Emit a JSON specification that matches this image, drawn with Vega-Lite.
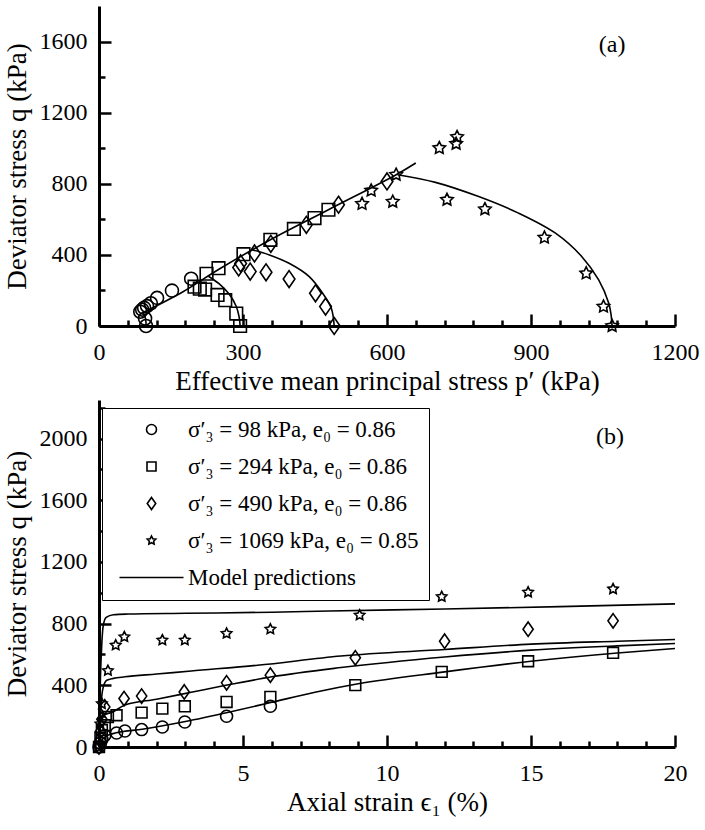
{
  "$schema": "https://vega.github.io/schema/vega-lite/v6.json",
  "background": "white",
  "padding": {"left": 3, "top": 6, "right": 8, "bottom": 5},
  "config": {
    "font": "Liberation Serif",
    "view": {"stroke": null},
    "axis": {
      "domainColor": "black", "domainWidth": 3, "tickColor": "black", "tickWidth": 2.5,
      "labelColor": "black", "titleColor": "black", "grid": false,
      "labelFlush": false, "labelOverlap": false,
      "labelFont": "Liberation Serif", "titleFont": "Liberation Serif", "titleFontWeight": "normal"
    }
  },
  "datasets": {
    "pointsA": [
      {"p": 98, "q": 0, "s": "σ′₃ = 98 kPa, e₀ = 0.86"},
      {"p": 96, "q": 42, "s": "σ′₃ = 98 kPa, e₀ = 0.86"},
      {"p": 86, "q": 80, "s": "σ′₃ = 98 kPa, e₀ = 0.86"},
      {"p": 90, "q": 92, "s": "σ′₃ = 98 kPa, e₀ = 0.86"},
      {"p": 94, "q": 102, "s": "σ′₃ = 98 kPa, e₀ = 0.86"},
      {"p": 100, "q": 112, "s": "σ′₃ = 98 kPa, e₀ = 0.86"},
      {"p": 108, "q": 128, "s": "σ′₃ = 98 kPa, e₀ = 0.86"},
      {"p": 121, "q": 158, "s": "σ′₃ = 98 kPa, e₀ = 0.86"},
      {"p": 152, "q": 199, "s": "σ′₃ = 98 kPa, e₀ = 0.86"},
      {"p": 192, "q": 266, "s": "σ′₃ = 98 kPa, e₀ = 0.86"},
      {"p": 294, "q": 0, "s": "σ′₃ = 294 kPa, e₀ = 0.86"},
      {"p": 286, "q": 70, "s": "σ′₃ = 294 kPa, e₀ = 0.86"},
      {"p": 263, "q": 145, "s": "σ′₃ = 294 kPa, e₀ = 0.86"},
      {"p": 247, "q": 175, "s": "σ′₃ = 294 kPa, e₀ = 0.86"},
      {"p": 221, "q": 205, "s": "σ′₃ = 294 kPa, e₀ = 0.86"},
      {"p": 210, "q": 210, "s": "σ′₃ = 294 kPa, e₀ = 0.86"},
      {"p": 199, "q": 221, "s": "σ′₃ = 294 kPa, e₀ = 0.86"},
      {"p": 224, "q": 294, "s": "σ′₃ = 294 kPa, e₀ = 0.86"},
      {"p": 249, "q": 325, "s": "σ′₃ = 294 kPa, e₀ = 0.86"},
      {"p": 301, "q": 404, "s": "σ′₃ = 294 kPa, e₀ = 0.86"},
      {"p": 357, "q": 485, "s": "σ′₃ = 294 kPa, e₀ = 0.86"},
      {"p": 406, "q": 546, "s": "σ′₃ = 294 kPa, e₀ = 0.86"},
      {"p": 449, "q": 607, "s": "σ′₃ = 294 kPa, e₀ = 0.86"},
      {"p": 478, "q": 654, "s": "σ′₃ = 294 kPa, e₀ = 0.86"},
      {"p": 490, "q": 0, "s": "σ′₃ = 490 kPa, e₀ = 0.86"},
      {"p": 472, "q": 109, "s": "σ′₃ = 490 kPa, e₀ = 0.86"},
      {"p": 451, "q": 184, "s": "σ′₃ = 490 kPa, e₀ = 0.86"},
      {"p": 396, "q": 264, "s": "σ′₃ = 490 kPa, e₀ = 0.86"},
      {"p": 348, "q": 302, "s": "σ′₃ = 490 kPa, e₀ = 0.86"},
      {"p": 315, "q": 306, "s": "σ′₃ = 490 kPa, e₀ = 0.86"},
      {"p": 291, "q": 329, "s": "σ′₃ = 490 kPa, e₀ = 0.86"},
      {"p": 295, "q": 352, "s": "σ′₃ = 490 kPa, e₀ = 0.86"},
      {"p": 324, "q": 408, "s": "σ′₃ = 490 kPa, e₀ = 0.86"},
      {"p": 358, "q": 462, "s": "σ′₃ = 490 kPa, e₀ = 0.86"},
      {"p": 432, "q": 569, "s": "σ′₃ = 490 kPa, e₀ = 0.86"},
      {"p": 499, "q": 682, "s": "σ′₃ = 490 kPa, e₀ = 0.86"},
      {"p": 600, "q": 813, "s": "σ′₃ = 490 kPa, e₀ = 0.86"},
      {"p": 1069, "q": 0, "s": "σ′₃ = 1069 kPa, e₀ = 0.85"},
      {"p": 1051, "q": 109, "s": "σ′₃ = 1069 kPa, e₀ = 0.85"},
      {"p": 1015, "q": 296, "s": "σ′₃ = 1069 kPa, e₀ = 0.85"},
      {"p": 928, "q": 497, "s": "σ′₃ = 1069 kPa, e₀ = 0.85"},
      {"p": 804, "q": 657, "s": "σ′₃ = 1069 kPa, e₀ = 0.85"},
      {"p": 725, "q": 710, "s": "σ′₃ = 1069 kPa, e₀ = 0.85"},
      {"p": 612, "q": 699, "s": "σ′₃ = 1069 kPa, e₀ = 0.85"},
      {"p": 548, "q": 687, "s": "σ′₃ = 1069 kPa, e₀ = 0.85"},
      {"p": 567, "q": 762, "s": "σ′₃ = 1069 kPa, e₀ = 0.85"},
      {"p": 619, "q": 851, "s": "σ′₃ = 1069 kPa, e₀ = 0.85"},
      {"p": 709, "q": 1001, "s": "σ′₃ = 1069 kPa, e₀ = 0.85"},
      {"p": 744, "q": 1025, "s": "σ′₃ = 1069 kPa, e₀ = 0.85"},
      {"p": 746, "q": 1063, "s": "σ′₃ = 1069 kPa, e₀ = 0.85"}
    ],
    "linesA": [
      {"p": 92, "q": 76, "g": "csl", "i": 0},
      {"p": 175, "q": 193, "g": "csl", "i": 1},
      {"p": 249, "q": 318, "g": "csl", "i": 2},
      {"p": 357, "q": 485, "g": "csl", "i": 3},
      {"p": 478, "q": 654, "g": "csl", "i": 4},
      {"p": 619, "q": 851, "g": "csl", "i": 5},
      {"p": 660, "q": 917, "g": "csl", "i": 6},
      {"p": 98, "q": 0, "g": "m98", "i": 0},
      {"p": 97, "q": 40, "g": "m98", "i": 1},
      {"p": 92, "q": 76, "g": "m98", "i": 2},
      {"p": 294, "q": 0, "g": "m294", "i": 0},
      {"p": 292, "q": 50, "g": "m294", "i": 1},
      {"p": 286, "q": 110, "g": "m294", "i": 2},
      {"p": 271, "q": 180, "g": "m294", "i": 3},
      {"p": 250, "q": 238, "g": "m294", "i": 4},
      {"p": 228, "q": 280, "g": "m294", "i": 5},
      {"p": 490, "q": 0, "g": "m490", "i": 0},
      {"p": 484, "q": 100, "g": "m490", "i": 1},
      {"p": 467, "q": 180, "g": "m490", "i": 2},
      {"p": 438, "q": 278, "g": "m490", "i": 3},
      {"p": 396, "q": 353, "g": "m490", "i": 4},
      {"p": 355, "q": 400, "g": "m490", "i": 5},
      {"p": 320, "q": 428, "g": "m490", "i": 6},
      {"p": 1069, "q": 0, "g": "m1069", "i": 0},
      {"p": 1067, "q": 60, "g": "m1069", "i": 1},
      {"p": 1062, "q": 128, "g": "m1069", "i": 2},
      {"p": 1041, "q": 259, "g": "m1069", "i": 3},
      {"p": 1006, "q": 390, "g": "m1069", "i": 4},
      {"p": 951, "q": 522, "g": "m1069", "i": 5},
      {"p": 874, "q": 635, "g": "m1069", "i": 6},
      {"p": 791, "q": 728, "g": "m1069", "i": 7},
      {"p": 701, "q": 808, "g": "m1069", "i": 8},
      {"p": 622, "q": 851, "g": "m1069", "i": 9}
    ],
    "pointsB": [
      {"e": 0, "q": 0, "s": "σ′₃ = 98 kPa, e₀ = 0.86"},
      {"e": 0.05, "q": 25, "s": "σ′₃ = 98 kPa, e₀ = 0.86"},
      {"e": 0.1, "q": 50, "s": "σ′₃ = 98 kPa, e₀ = 0.86"},
      {"e": 0.2, "q": 75, "s": "σ′₃ = 98 kPa, e₀ = 0.86"},
      {"e": 0.61, "q": 91, "s": "σ′₃ = 98 kPa, e₀ = 0.86"},
      {"e": 0.9, "q": 104, "s": "σ′₃ = 98 kPa, e₀ = 0.86"},
      {"e": 1.48, "q": 113, "s": "σ′₃ = 98 kPa, e₀ = 0.86"},
      {"e": 2.2, "q": 130, "s": "σ′₃ = 98 kPa, e₀ = 0.86"},
      {"e": 2.98, "q": 162, "s": "σ′₃ = 98 kPa, e₀ = 0.86"},
      {"e": 4.43, "q": 199, "s": "σ′₃ = 98 kPa, e₀ = 0.86"},
      {"e": 5.95, "q": 264, "s": "σ′₃ = 98 kPa, e₀ = 0.86"},
      {"e": 0, "q": 0, "s": "σ′₃ = 294 kPa, e₀ = 0.86"},
      {"e": 0.05, "q": 60, "s": "σ′₃ = 294 kPa, e₀ = 0.86"},
      {"e": 0.1, "q": 110, "s": "σ′₃ = 294 kPa, e₀ = 0.86"},
      {"e": 0.2, "q": 141, "s": "σ′₃ = 294 kPa, e₀ = 0.86"},
      {"e": 0.31, "q": 195, "s": "σ′₃ = 294 kPa, e₀ = 0.86"},
      {"e": 0.61, "q": 206, "s": "σ′₃ = 294 kPa, e₀ = 0.86"},
      {"e": 1.48, "q": 223, "s": "σ′₃ = 294 kPa, e₀ = 0.86"},
      {"e": 2.2, "q": 249, "s": "σ′₃ = 294 kPa, e₀ = 0.86"},
      {"e": 2.98, "q": 264, "s": "σ′₃ = 294 kPa, e₀ = 0.86"},
      {"e": 4.43, "q": 292, "s": "σ′₃ = 294 kPa, e₀ = 0.86"},
      {"e": 5.95, "q": 325, "s": "σ′₃ = 294 kPa, e₀ = 0.86"},
      {"e": 8.9, "q": 401, "s": "σ′₃ = 294 kPa, e₀ = 0.86"},
      {"e": 11.9, "q": 487, "s": "σ′₃ = 294 kPa, e₀ = 0.86"},
      {"e": 14.9, "q": 556, "s": "σ′₃ = 294 kPa, e₀ = 0.86"},
      {"e": 17.85, "q": 610, "s": "σ′₃ = 294 kPa, e₀ = 0.86"},
      {"e": 0, "q": 0, "s": "σ′₃ = 490 kPa, e₀ = 0.86"},
      {"e": 0.05, "q": 100, "s": "σ′₃ = 490 kPa, e₀ = 0.86"},
      {"e": 0.1, "q": 180, "s": "σ′₃ = 490 kPa, e₀ = 0.86"},
      {"e": 0.2, "q": 260, "s": "σ′₃ = 490 kPa, e₀ = 0.86"},
      {"e": 0.87, "q": 314, "s": "σ′₃ = 490 kPa, e₀ = 0.86"},
      {"e": 1.48, "q": 330, "s": "σ′₃ = 490 kPa, e₀ = 0.86"},
      {"e": 2.96, "q": 357, "s": "σ′₃ = 490 kPa, e₀ = 0.86"},
      {"e": 4.43, "q": 416, "s": "σ′₃ = 490 kPa, e₀ = 0.86"},
      {"e": 5.95, "q": 466, "s": "σ′₃ = 490 kPa, e₀ = 0.86"},
      {"e": 8.9, "q": 578, "s": "σ′₃ = 490 kPa, e₀ = 0.86"},
      {"e": 12, "q": 686, "s": "σ′₃ = 490 kPa, e₀ = 0.86"},
      {"e": 14.9, "q": 764, "s": "σ′₃ = 490 kPa, e₀ = 0.86"},
      {"e": 17.85, "q": 818, "s": "σ′₃ = 490 kPa, e₀ = 0.86"},
      {"e": 0, "q": 0, "s": "σ′₃ = 1069 kPa, e₀ = 0.85"},
      {"e": 0.05, "q": 150, "s": "σ′₃ = 1069 kPa, e₀ = 0.85"},
      {"e": 0.1, "q": 280, "s": "σ′₃ = 1069 kPa, e₀ = 0.85"},
      {"e": 0.31, "q": 495, "s": "σ′₃ = 1069 kPa, e₀ = 0.85"},
      {"e": 0.58, "q": 660, "s": "σ′₃ = 1069 kPa, e₀ = 0.85"},
      {"e": 0.88, "q": 714, "s": "σ′₃ = 1069 kPa, e₀ = 0.85"},
      {"e": 2.2, "q": 693, "s": "σ′₃ = 1069 kPa, e₀ = 0.85"},
      {"e": 2.98, "q": 693, "s": "σ′₃ = 1069 kPa, e₀ = 0.85"},
      {"e": 4.43, "q": 736, "s": "σ′₃ = 1069 kPa, e₀ = 0.85"},
      {"e": 5.95, "q": 764, "s": "σ′₃ = 1069 kPa, e₀ = 0.85"},
      {"e": 9.05, "q": 855, "s": "σ′₃ = 1069 kPa, e₀ = 0.85"},
      {"e": 11.9, "q": 974, "s": "σ′₃ = 1069 kPa, e₀ = 0.85"},
      {"e": 14.9, "q": 1003, "s": "σ′₃ = 1069 kPa, e₀ = 0.85"},
      {"e": 17.85, "q": 1024, "s": "σ′₃ = 1069 kPa, e₀ = 0.85"}
    ],
    "linesB": [
      {"e": 0, "q": 0, "g": "m1069", "i": 0},
      {"e": 0.02, "q": 200, "g": "m1069", "i": 1},
      {"e": 0.05, "q": 450, "g": "m1069", "i": 2},
      {"e": 0.1, "q": 680, "g": "m1069", "i": 3},
      {"e": 0.15, "q": 790, "g": "m1069", "i": 4},
      {"e": 0.25, "q": 840, "g": "m1069", "i": 5},
      {"e": 0.5, "q": 858, "g": "m1069", "i": 6},
      {"e": 1, "q": 862, "g": "m1069", "i": 7},
      {"e": 3, "q": 867, "g": "m1069", "i": 8},
      {"e": 6, "q": 874, "g": "m1069", "i": 9},
      {"e": 8, "q": 882, "g": "m1069", "i": 10},
      {"e": 12, "q": 895, "g": "m1069", "i": 11},
      {"e": 16, "q": 910, "g": "m1069", "i": 12},
      {"e": 20, "q": 928, "g": "m1069", "i": 13},
      {"e": 0, "q": 0, "g": "m490", "i": 0},
      {"e": 0.03, "q": 150, "g": "m490", "i": 1},
      {"e": 0.08, "q": 300, "g": "m490", "i": 2},
      {"e": 0.15, "q": 390, "g": "m490", "i": 3},
      {"e": 0.27, "q": 433, "g": "m490", "i": 4},
      {"e": 0.5, "q": 445, "g": "m490", "i": 5},
      {"e": 0.9, "q": 455, "g": "m490", "i": 6},
      {"e": 2, "q": 473, "g": "m490", "i": 7},
      {"e": 3.2, "q": 493, "g": "m490", "i": 8},
      {"e": 5.5, "q": 530, "g": "m490", "i": 9},
      {"e": 8.4, "q": 590, "g": "m490", "i": 10},
      {"e": 12, "q": 632, "g": "m490", "i": 11},
      {"e": 15, "q": 667, "g": "m490", "i": 12},
      {"e": 18, "q": 686, "g": "m490", "i": 13},
      {"e": 20, "q": 697, "g": "m490", "i": 14},
      {"e": 0, "q": 0, "g": "m294", "i": 0},
      {"e": 0.02, "q": 80, "g": "m294", "i": 1},
      {"e": 0.05, "q": 150, "g": "m294", "i": 2},
      {"e": 0.1, "q": 190, "g": "m294", "i": 3},
      {"e": 0.2, "q": 210, "g": "m294", "i": 4},
      {"e": 0.45, "q": 225, "g": "m294", "i": 5},
      {"e": 0.9, "q": 272, "g": "m294", "i": 6},
      {"e": 2, "q": 310, "g": "m294", "i": 7},
      {"e": 3.2, "q": 355, "g": "m294", "i": 8},
      {"e": 4.4, "q": 400, "g": "m294", "i": 9},
      {"e": 6, "q": 455, "g": "m294", "i": 10},
      {"e": 8.4, "q": 515, "g": "m294", "i": 11},
      {"e": 12, "q": 584, "g": "m294", "i": 12},
      {"e": 15, "q": 628, "g": "m294", "i": 13},
      {"e": 18, "q": 656, "g": "m294", "i": 14},
      {"e": 20, "q": 671, "g": "m294", "i": 15},
      {"e": 0, "q": 0, "g": "m98", "i": 0},
      {"e": 0.1, "q": 45, "g": "m98", "i": 1},
      {"e": 0.3, "q": 75, "g": "m98", "i": 2},
      {"e": 0.6, "q": 92, "g": "m98", "i": 3},
      {"e": 1.5, "q": 115, "g": "m98", "i": 4},
      {"e": 3, "q": 165, "g": "m98", "i": 5},
      {"e": 4.5, "q": 225, "g": "m98", "i": 6},
      {"e": 6, "q": 290, "g": "m98", "i": 7},
      {"e": 7.5, "q": 355, "g": "m98", "i": 8},
      {"e": 9, "q": 410, "g": "m98", "i": 9},
      {"e": 12, "q": 487, "g": "m98", "i": 10},
      {"e": 15, "q": 556, "g": "m98", "i": 11},
      {"e": 18, "q": 610, "g": "m98", "i": 12},
      {"e": 20, "q": 639, "g": "m98", "i": 13}
    ],
    "labelA": [{"p": 1069, "q": 1583, "t": "(a)"}],
    "labelB": [{"e": 17.74, "q": 2011, "t": "(b)"}]
  },
  "bounds": "flush",
  "spacing": 74,
  "resolve": {"scale": {"shape": "independent"}, "legend": {"shape": "independent"}},
  "vconcat": [
    {
      "width": 576,
      "height": 320,
      "resolve": {"axis": {"x": "independent", "y": "independent"}},
      "layer": [
        {
          "data": {"name": "linesA"},
          "mark": {"type": "line", "color": "black", "strokeWidth": 1.6, "interpolate": "catmull-rom"},
          "encoding": {
            "x": {"field": "p", "type": "quantitative", "scale": {"domain": [0, 1200], "nice": false},
              "axis": {"orient": "bottom", "values": [60, 120, 180, 240, 360, 420, 480, 540, 660, 720, 780, 840, 960, 1020, 1080, 1140], "tickSize": -6, "labels": false, "domain": false, "title": null}},
            "y": {"field": "q", "type": "quantitative", "scale": {"domain": [0, 1800], "nice": false},
              "axis": {"orient": "left", "values": [200, 600, 1000, 1400], "tickSize": -6, "labels": false, "domain": false, "title": null}},
            "detail": {"field": "g", "type": "nominal"},
            "order": {"field": "i", "type": "quantitative"}
          }
        },
        {
          "data": {"name": "pointsA"},
          "mark": {"type": "point", "filled": false, "stroke": "black", "strokeWidth": 1.6, "size": 169, "opacity": 1},
          "encoding": {
            "x": {"field": "p", "type": "quantitative", "scale": {"domain": [0, 1200], "nice": false},
              "axis": {"orient": "bottom", "values": [0, 300, 600, 900, 1200], "format": "d", "tickSize": -12, "labelPadding": 26, "title": "Effective mean principal stress p′ (kPa)", "titlePadding": 4,
                "labelFont": "Liberation Serif", "labelFontSize": 24, "titleFont": "Liberation Serif", "titleFontSize": 27, "titleFontWeight": "normal"}},
            "y": {"field": "q", "type": "quantitative", "scale": {"domain": [0, 1800], "nice": false},
              "axis": {"orient": "left", "values": [0, 400, 800, 1200, 1600], "format": "d", "tickSize": -12, "labelPadding": 24, "title": "Deviator stress q (kPa)", "titlePadding": 8,
                "labelFont": "Liberation Serif", "labelFontSize": 24, "titleFont": "Liberation Serif", "titleFontSize": 27, "titleFontWeight": "normal"}},
            "shape": {"field": "s", "type": "nominal", "legend": null,
              "scale": {"domain": ["σ′₃ = 98 kPa, e₀ = 0.86", "σ′₃ = 294 kPa, e₀ = 0.86", "σ′₃ = 490 kPa, e₀ = 0.86", "σ′₃ = 1069 kPa, e₀ = 0.85"],
                "range": ["circle", "M-0.97,-0.97H0.97V0.97H-0.97Z", "M0,-1.3L0.9,0L0,1.3L-0.9,0Z", "M0,-1L0.294,-0.405L0.951,-0.309L0.476,0.155L0.588,0.809L0,0.5L-0.588,0.809L-0.476,0.155L-0.951,-0.309L-0.294,-0.405Z"]}}
          }
        },
        {
          "data": {"name": "labelA"},
          "mark": {"type": "text", "font": "Liberation Serif", "fontSize": 24, "color": "black", "align": "center", "baseline": "middle"},
          "encoding": {
            "x": {"field": "p", "type": "quantitative", "axis": null},
            "y": {"field": "q", "type": "quantitative", "axis": null},
            "text": {"field": "t"}
          }
        }
      ]
    },
    {
      "width": 576,
      "height": 347,
      "resolve": {"axis": {"x": "independent", "y": "independent"}},
      "layer": [
        {
          "data": {"name": "linesB"},
          "mark": {"type": "line", "color": "black", "strokeWidth": 1.6, "interpolate": "monotone"},
          "encoding": {
            "x": {"field": "e", "type": "quantitative", "scale": {"domain": [0, 20], "nice": false},
              "axis": {"orient": "bottom", "values": [1, 2, 3, 4, 6, 7, 8, 9, 11, 12, 13, 14, 16, 17, 18, 19], "tickSize": -6, "labels": false, "domain": false, "title": null}},
            "y": {"field": "q", "type": "quantitative", "scale": {"domain": [0, 2250], "nice": false},
              "axis": {"orient": "left", "values": [200, 600, 1000, 1400, 1800, 2200], "tickSize": -6, "labels": false, "domain": false, "title": null}},
            "detail": {"field": "g", "type": "nominal"},
            "order": {"field": "i", "type": "quantitative"}
          }
        },
        {
          "data": {"name": "pointsB"},
          "mark": {"type": "point", "filled": false, "stroke": "black", "strokeWidth": 1.6, "size": 144, "opacity": 1},
          "encoding": {
            "x": {"field": "e", "type": "quantitative", "scale": {"domain": [0, 20], "nice": false},
              "axis": {"orient": "bottom", "values": [0, 5, 10, 15, 20], "format": "d", "tickSize": -12, "labelPadding": 26, "title": "Axial strain ϵ₁ (%)", "titlePadding": 4,
                "labelFont": "Liberation Serif", "labelFontSize": 24, "titleFont": "Liberation Serif", "titleFontSize": 27, "titleFontWeight": "normal"}},
            "y": {"field": "q", "type": "quantitative", "scale": {"domain": [0, 2250], "nice": false},
              "axis": {"orient": "left", "values": [0, 400, 800, 1200, 1600, 2000], "format": "d", "tickSize": -12, "labelPadding": 24, "title": "Deviator stress q (kPa)", "titlePadding": 8,
                "labelFont": "Liberation Serif", "labelFontSize": 24, "titleFont": "Liberation Serif", "titleFontSize": 27, "titleFontWeight": "normal"}},
            "shape": {"field": "s", "type": "nominal",
              "scale": {"domain": ["σ′₃ = 98 kPa, e₀ = 0.86", "σ′₃ = 294 kPa, e₀ = 0.86", "σ′₃ = 490 kPa, e₀ = 0.86", "σ′₃ = 1069 kPa, e₀ = 0.85", "Model predictions"],
                "range": ["circle", "M-0.9,-0.9H0.9V0.9H-0.9Z", "M0,-1.2L0.85,0L0,1.2L-0.85,0Z", "M0,-0.9L0.265,-0.365L0.856,-0.278L0.428,0.14L0.529,0.728L0,0.45L-0.529,0.728L-0.428,0.14L-0.856,-0.278L-0.265,-0.365Z", "M-6.4,0H6.4"]},
              "legend": {
                "orient": "none", "legendX": 3, "legendY": 8, "title": null,
                "labelFont": "Liberation Serif", "labelFontSize": 23, "labelColor": "black", "labelLimit": 400,
                "symbolSize": 100, "symbolStrokeWidth": 1.6, "symbolStrokeColor": "black", "symbolFillColor": "transparent",
                "symbolOffset": 28, "labelOffset": 25, "rowPadding": 13, "padding": 10,
                "strokeColor": "black", "fillColor": "white",
                "encode": {"legend": {"update": {"strokeWidth": {"value": 2.5}}}}
              }}
          }
        },
        {
          "data": {"name": "labelB"},
          "mark": {"type": "text", "font": "Liberation Serif", "fontSize": 24, "color": "black", "align": "center", "baseline": "middle"},
          "encoding": {
            "x": {"field": "e", "type": "quantitative", "axis": null},
            "y": {"field": "q", "type": "quantitative", "axis": null},
            "text": {"field": "t"}
          }
        }
      ]
    }
  ]
}
